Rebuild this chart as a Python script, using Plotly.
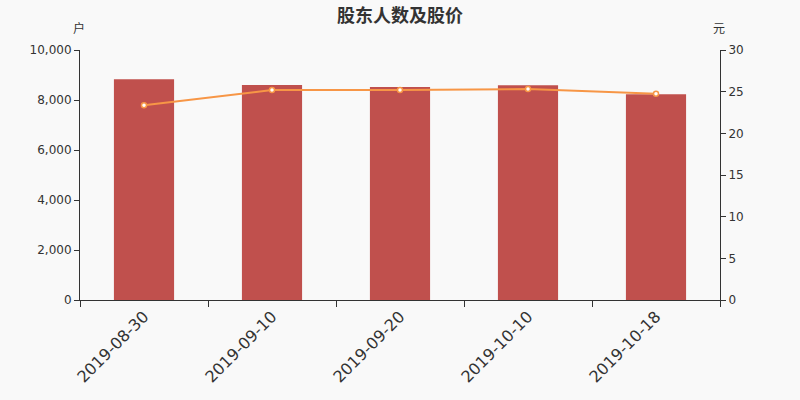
import plotly.graph_objects as go

dates = ['2019-08-30', '2019-09-10', '2019-09-20', '2019-10-10', '2019-10-18']
holders = [8830, 8600, 8520, 8590, 8230]  # 户
price = [23.36, 25.2, 25.2, 25.32, 24.76]  # 元

BAR_COLOR = '#c0504d'
LINE_COLOR = '#f79646'
AXIS_COLOR = '#333333'
TEXT_COLOR = '#333333'
FONT = 'DejaVu Sans'
CJK_FONT = 'Noto Sans CJK SC'

fig = go.Figure()
fig.add_trace(go.Bar(
	x=dates, y=holders, name='股东人数',
	marker=dict(color=BAR_COLOR, line=dict(width=0)),
	width=0.47,
))
fig.add_trace(go.Scatter(
	x=dates, y=price, name='股价', yaxis='y2',
	mode='lines+markers',
	line=dict(color=LINE_COLOR, width=2),
	marker=dict(size=5, color='white', line=dict(color=LINE_COLOR, width=1.5)),
))

axis_common = dict(
	showgrid=False, zeroline=False, showline=True, linecolor=AXIS_COLOR, linewidth=1,
	ticks='outside', ticklen=5, tickcolor=AXIS_COLOR,
	tickfont=dict(size=12, color=TEXT_COLOR, family=FONT),
)
fig.update_layout(
	width=800, height=400,
	paper_bgcolor='#f9f9f9', plot_bgcolor='#f9f9f9',
	margin=dict(l=80, r=80, t=50, b=100),
	showlegend=False,
	font=dict(family=FONT, color=TEXT_COLOR),
	title=dict(text='<b>股东人数及股价</b>', x=0.5, xanchor='center', y=0.962, yanchor='middle',
		font=dict(size=18, color=TEXT_COLOR, family=CJK_FONT)),
	xaxis=dict(
		type='category',
		showgrid=False, showline=True, linecolor=AXIS_COLOR, linewidth=1,
		ticks='outside', ticklen=6, tickcolor=AXIS_COLOR, tickson='boundaries',
		tickangle=-45, tickfont=dict(size=16, color=TEXT_COLOR, family=FONT),
	),
	yaxis=dict(range=[0, 10000], dtick=2000, tickformat=',', **axis_common),
	yaxis2=dict(range=[0, 30], dtick=5, overlaying='y', side='right', **axis_common),
	annotations=[
		dict(text='户', xref='paper', yref='paper', x=0, y=1.088, xanchor='center', yanchor='middle',
			xshift=-1, showarrow=False, font=dict(size=12, color=TEXT_COLOR, family=CJK_FONT)),
		dict(text='元', xref='paper', yref='paper', x=1, y=1.088, xanchor='center', yanchor='middle',
			xshift=-1, showarrow=False, font=dict(size=12, color=TEXT_COLOR, family=CJK_FONT)),
	],
)

# page body has a default 8px margin; remove it so the chart fills the window
fig.write_html('out.html', config={'displayModeBar': False},
	post_script="document.body.style.margin='0';")
